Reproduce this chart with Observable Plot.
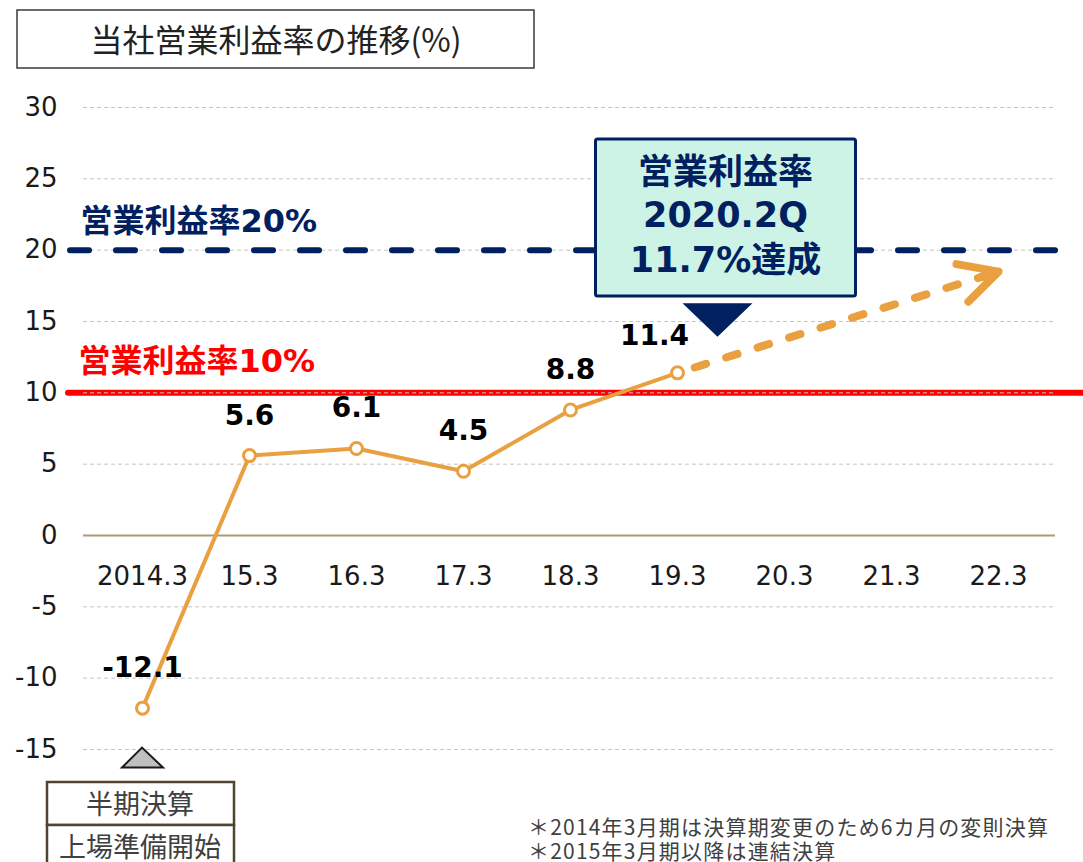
<!DOCTYPE html>
<html><head><meta charset="utf-8">
<script src="https://cdn.jsdelivr.net/npm/d3@7"></script>
<script src="https://cdn.jsdelivr.net/npm/@observablehq/plot@0.6"></script>
<style>body{margin:0;background:#fff}</style>
</head><body><div id="chart"></div>
<script>
// ---- data ----
const categories = ["2014.3","15.3","16.3","17.3","18.3","19.3","20.3","21.3","22.3"];
const actualYears = ["2014.3","15.3","16.3","17.3","18.3","19.3"];
const actualValues = [-12.1, 5.6, 6.1, 4.5, 8.8, 11.4];
const yTicks = [-15,-10,-5,0,5,10,15,20,25,30];
const target20 = 20;
const target10 = 10;
const forecastFrom = {x: "19.3", y: 11.4};
const forecastTo = {x: "22.3", y: 18.5};
const titleText = "当社営業利益率の推移(%)";
const label20 = "営業利益率20%";
const label10 = "営業利益率10%";
const calloutLines = ["営業利益率", "2020.2Q", "11.7%達成"];
const noteBoxLines = ["半期決算", "上場準備開始"];
const footnotes = ["＊2014年3月期は決算期変更のため6カ月の変則決算", "＊2015年3月期以降は連結決算"];

const actual = actualYears.map((c, i) => ({cat: c, value: actualValues[i]}));
const lastPoint = actual.slice(-1);
const otherPoints = actual.slice(0, -1);
const forecast = [{x1: forecastFrom.x, y1: forecastFrom.y, x2: forecastTo.x, y2: forecastTo.y}];

const ORANGE = "#E9A040", NAVY = "#002060", RED = "#FF0000";
const JP = "'Noto Sans CJK JP', sans-serif";
const MIX = "'DejaVu Sans', 'Noto Sans CJK JP', sans-serif";

function annotations(index, scales) {
  const x = scales.x, y = scales.y;
  const g = d3.create("svg:g").attr("text-anchor", "start");
  // title box
  g.append("rect").attr("x", 17).attr("y", 10).attr("width", 517).attr("height", 58)
    .attr("fill", "#fff").attr("stroke", "#3a3a3a").attr("stroke-width", 1.5);
  g.append("text").attr("x", 276).attr("y", 40).attr("dy", "0.36em")
    .attr("text-anchor", "middle").attr("font-family", JP).attr("font-size", 32)
    .attr("fill", "#222").text(titleText);
  // callout
  const cx = (x("19.3") + x("20.3")) / 2 - 5;
  const top = y(27.75), bottom = y(16.75);
  g.append("rect").attr("x", cx - 130).attr("y", top).attr("width", 260).attr("height", bottom - top)
    .attr("rx", 2).attr("fill", "#CCF3E6").attr("stroke", NAVY).attr("stroke-width", 3);
  const baselines = [y(24.6), y(21.6), y(18.45)];
  calloutLines.forEach((t, i) => {
    g.append("text").attr("x", cx).attr("y", baselines[i]).attr("text-anchor", "middle")
      .attr("font-family", MIX).attr("font-weight", "bold").attr("font-size", 35)
      .attr("fill", NAVY).text(t);
  });
  const tx = cx - 8, tTop = y(16.25), tTip = y(13.9);
  g.append("path").attr("d", `M${tx - 35},${tTop}L${tx + 35},${tTop}L${tx},${tTip}Z`).attr("fill", NAVY);
  // bottom-left note
  const bx = x("2014.3");
  const triTip = y(-14.9), triBase = y(-16.3);
  g.append("path").attr("d", `M${bx - 20},${triBase}L${bx},${triTip}L${bx + 21},${triBase}Z`)
    .attr("fill", "#BFBFBF").attr("stroke", "#1a1a1a").attr("stroke-width", 2);
  g.append("rect").attr("x", 47).attr("y", 782).attr("width", 187).attr("height", 43)
    .attr("fill", "#fff").attr("stroke", "#4F4430").attr("stroke-width", 2.5);
  g.append("rect").attr("x", 47).attr("y", 825).attr("width", 187).attr("height", 50)
    .attr("fill", "#fff").attr("stroke", "#4F4430").attr("stroke-width", 2.5);
  [804, 847].forEach((yy, i) => {
    g.append("text").attr("x", 140).attr("y", yy).attr("dy", "0.36em").attr("text-anchor", "middle")
      .attr("font-family", JP).attr("font-size", 27).attr("fill", "#404040").text(noteBoxLines[i]);
  });
  // footnotes
  [835, 859].forEach((yy, i) => {
    g.append("text").attr("x", 528).attr("y", yy).attr("text-anchor", "start").attr("font-family", JP)
      .attr("font-size", 21).attr("letter-spacing", "1.2px")
      .attr("fill", "#404040").text(footnotes[i]);
  });
  return g.node();
}

const chart = Plot.plot({
  width: 1083,
  height: 862,
  marginLeft: 85,
  marginRight: 28,
  marginTop: 107,
  marginBottom: 113,
  style: {fontFamily: MIX, background: "#fff", overflow: "visible"},
  x: {type: "point", domain: categories, padding: 0.5, axis: null},
  y: {domain: [-15, 30], axis: null},
  marks: [
    Plot.ruleY([target10], {stroke: RED, strokeWidth: 6, strokeLinecap: "round", insetLeft: -17, insetRight: -32}),
    Plot.ruleY(yTicks.filter(d => d !== 0), {stroke: "#C4C4C4", strokeWidth: 1, strokeDasharray: "4 3", insetLeft: -2}),
    Plot.ruleY([target20], {stroke: NAVY, strokeWidth: 6, strokeDasharray: "19 27", strokeLinecap: "round", insetLeft: -15, insetRight: -20}),
    Plot.ruleY([0], {stroke: "#A89C74", strokeWidth: 2, insetLeft: -2}),
    Plot.axisY(yTicks, {tickSize: 0, tickPadding: 28, fontSize: 26, fill: "#1a1a1a", label: null, tickFormat: d => String(d)}),
    Plot.text(categories, {x: d => d, y: 0, dy: 41, fontSize: 26, fill: "#1a1a1a"}),
    Plot.text([label20], {y: target20, frameAnchor: "left", textAnchor: "start", dx: -5, dy: -28, fontSize: 32, fontWeight: "bold", fill: NAVY, fontFamily: MIX}),
    Plot.text([label10], {y: target10, frameAnchor: "left", textAnchor: "start", dx: -7, dy: -31, fontSize: 32, fontWeight: "bold", fill: RED, fontFamily: MIX}),
    Plot.link(forecast, {x1: "x1", y1: "y1", x2: "x2", y2: "y2", stroke: ORANGE, strokeWidth: 8, strokeDasharray: "12 21", strokeDashoffset: 15, strokeLinecap: "round"}),
    Plot.arrow(forecast, {x1: "x1", y1: "y1", x2: "x2", y2: "y2", stroke: ORANGE, strokeWidth: 8, headLength: 8, headAngle: 55, insetStart: 318, strokeLinecap: "round", strokeLinejoin: "round"}),
    Plot.line(actual, {x: "cat", y: "value", stroke: ORANGE, strokeWidth: 4}),
    Plot.dot(actual, {x: "cat", y: "value", r: 6, fill: "#fff", stroke: ORANGE, strokeWidth: 3}),
    Plot.text(otherPoints, {x: "cat", y: "value", text: d => d.value.toFixed(1), dy: -40, fontSize: 28, fontWeight: "bold", fill: "#000"}),
    Plot.text(lastPoint, {x: "cat", y: "value", text: d => d.value.toFixed(1), dx: -23, dy: -37, fontSize: 28, fontWeight: "bold", fill: "#000"}),
    annotations
  ]
});
document.getElementById("chart").appendChild(chart);
</script>
</body></html>
